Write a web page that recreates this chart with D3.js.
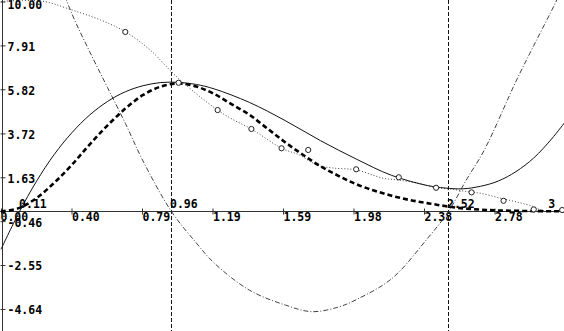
<!DOCTYPE html>
<html>
<head>
<meta charset="utf-8">
<script src="https://cdn.jsdelivr.net/npm/d3@7"></script>
<style>
  html, body { margin: 0; padding: 0; background: #fff; }
  svg { display: block; background: #fff; }
  .axis text, .mark-label {
    font-family: "DejaVu Sans Mono", monospace;
    font-weight: bold;
    font-size: 11.5px;
    fill: #000;
  }
</style>
</head>
<body>
<svg id="chart" width="564" height="331"></svg>
<script>
// 刻度
const xTicks = [0, 0.397, 0.794, 1.191, 1.588, 1.985, 2.382, 2.779];
const xTickLabels = ["0.00", "0.40", "0.79", "1.19", "1.59", "1.98", "2.38", "2.78"];
const yTicks = [10, 7.91, 5.82, 3.72, 1.63, -0.46, -2.55, -4.64];
const yTickLabels = ["10.00", "7.91", "5.82", "3.72", "1.63", "-0.46", "-2.55", "-4.64"];

// 标注点（x轴上方）和竖直虚线
const markX = [0.11, 0.96, 2.52, 3.09];
const markLabels = ["0.11", "0.96", "2.52", "3"];
const vLineX = [0.96, 2.52];

// 观测点
const pointX = [0.70, 1.00, 1.22, 1.41, 1.58, 1.73, 2.00, 2.24, 2.45, 2.65, 2.83, 3.00, 3.16];
const pointY = [8.55, 6.13, 4.83, 3.93, 3.01, 2.93, 2.01, 1.63, 1.13, 0.91, 0.51, 0.10, 0.07];

// 实线（拟合曲线）
const solidX = [0, 0.1, 0.2, 0.3, 0.4, 0.5, 0.6, 0.7, 0.8, 0.9, 1.0, 1.1, 1.2, 1.4, 1.6, 1.8, 2.0, 2.2, 2.4, 2.5, 2.6, 2.7, 2.8, 2.9, 3.0, 3.1, 3.18];
const solidY = [-1.8, -0.07, 1.44, 2.72, 3.76, 4.6, 5.24, 5.7, 5.99, 6.14, 6.15, 6.05, 5.84, 5.19, 4.33, 3.37, 2.5, 1.72, 1.24, 1.12, 1.08, 1.2, 1.45, 1.9, 2.55, 3.45, 4.3];

// 点线
const dotX = [0, 0.12, 0.25, 0.37, 0.56, 0.70, 0.84, 0.95, 1.02, 1.12, 1.22, 1.31, 1.41, 1.58, 1.68, 1.78, 1.87, 2.0, 2.15, 2.235, 2.34, 2.45, 2.53, 2.64, 2.70, 2.81, 2.92, 3.0, 3.04, 3.09];
const dotY = [10, 10.05, 9.99, 9.68, 9.12, 8.56, 7.69, 6.74, 6.18, 5.47, 4.83, 4.36, 3.93, 3.01, 2.69, 2.21, 2.07, 1.98, 1.59, 1.5, 1.36, 1.13, 1.07, 0.93, 0.87, 0.64, 0.42, 0.23, 0.07, 0];

// 粗虚线
const thickX = [0, 0.1, 0.2, 0.3, 0.4, 0.5, 0.6, 0.7, 0.8, 0.9, 1.0, 1.1, 1.2, 1.3, 1.4, 1.5, 1.6, 1.7, 1.8, 1.9, 2.0, 2.1, 2.2, 2.3, 2.4, 2.5, 2.6, 2.7, 2.8, 3.0, 3.18];
const thickY = [0, 0.16, 0.64, 1.37, 2.23, 3.2, 4.1, 4.9, 5.55, 5.95, 6.1, 5.95, 5.6, 5.1, 4.6, 3.95, 3.3, 2.7, 2.15, 1.7, 1.3, 1.0, 0.75, 0.55, 0.4, 0.26, 0.15, 0.09, 0.05, 0.02, 0.01];

// 点划线（导数）
const dashDotX = [0.30, 0.40, 0.50, 0.60, 0.70, 0.80, 0.96, 1.10, 1.20, 1.40, 1.60, 1.75, 1.90, 2.00, 2.20, 2.40, 2.52, 2.62, 2.72, 2.90, 3.00, 3.12, 3.18];
const dashDotY = [11.6, 9.4, 7.6, 5.9, 4.2, 2.4, 0, -1.5, -2.45, -3.75, -4.45, -4.77, -4.55, -4.2, -3.2, -1.3, 0, 1.5, 2.9, 6.2, 7.9, 9.9, 11.0];

const width = 564, height = 331;
const svg = d3.select("#chart");

const x = d3.scaleLinear().domain([0, 3.176]).range([1, 565]);
const y = d3.scaleLinear().domain([0, 10]).range([211.5, 1.5]);

const zip = (xs, ys) => xs.map((v, i) => [v, ys[i]]);
const smooth = d3.line()
  .x(d => x(d[0]))
  .y(d => y(d[1]))
  .curve(d3.curveCatmullRom.alpha(0.5));

// 坐标轴
const xAxis = svg.append("g")
  .attr("class", "axis")
  .attr("transform", `translate(0,${y(0)})`)
  .call(d3.axisBottom(x).tickValues(xTicks).tickSize(3).tickSizeOuter(0)
    .tickFormat((d, i) => xTickLabels[i]));
xAxis.select(".domain").attr("d", `M0,0H${width}`).attr("stroke", "#333");
xAxis.selectAll(".tick line").attr("y1", -3).attr("y2", 3).attr("stroke", "#333");
xAxis.selectAll(".tick text")
  .attr("text-anchor", "start")
  .attr("x", (d, i) => i === 0 ? -1 : 0)
  .attr("y", 1)
  .attr("dy", "0.71em");

const yAxis = svg.append("g")
  .attr("class", "axis")
  .attr("transform", "translate(2.5,0)")
  .call(d3.axisRight(y).tickValues(yTicks).tickSize(3).tickSizeOuter(0)
    .tickFormat((d, i) => yTickLabels[i]));
yAxis.select(".domain").attr("d", `M0,0V${height}`).attr("stroke", "#333");
yAxis.selectAll(".tick line").attr("x1", -2).attr("x2", 3).attr("stroke", "#333");
yAxis.selectAll(".tick text")
  .attr("x", 5)
  .attr("dy", (d, i) => i === 0 ? "0.6em" : "0.42em");

// 竖直虚线
svg.append("g").selectAll("line")
  .data(vLineX)
  .join("line")
  .attr("x1", d => x(d)).attr("x2", d => x(d))
  .attr("y1", 0).attr("y2", height)
  .attr("stroke", "#111")
  .attr("stroke-width", 1)
  .attr("stroke-dasharray", "4,2");

// 曲线
svg.append("path")
  .datum(zip(dashDotX, dashDotY))
  .attr("d", smooth)
  .attr("fill", "none")
  .attr("stroke", "#444")
  .attr("stroke-width", 1)
  .attr("stroke-dasharray", "5,2,1,2");

svg.append("path")
  .datum(zip(dotX, dotY))
  .attr("d", smooth)
  .attr("fill", "none")
  .attr("stroke", "#444")
  .attr("stroke-width", 1)
  .attr("stroke-dasharray", "1,2");

svg.append("path")
  .datum(zip(solidX, solidY))
  .attr("d", smooth)
  .attr("fill", "none")
  .attr("stroke", "#111")
  .attr("stroke-width", 1);

svg.append("path")
  .datum(zip(thickX, thickY))
  .attr("d", smooth)
  .attr("fill", "none")
  .attr("stroke", "#000")
  .attr("stroke-width", 2.6)
  .attr("stroke-dasharray", "5,3");

// 观测点
svg.append("g").selectAll("circle")
  .data(zip(pointX, pointY))
  .join("circle")
  .attr("cx", d => x(d[0]))
  .attr("cy", d => y(d[1]))
  .attr("r", 2.6)
  .attr("fill", "#fff")
  .attr("stroke", "#222")
  .attr("stroke-width", 1);

// 标注文字
svg.append("g").selectAll("text")
  .data(markX)
  .join("text")
  .attr("class", "mark-label")
  .attr("x", d => x(d) - 1.5)
  .attr("y", y(0) - 3.5)
  .text((d, i) => markLabels[i]);
</script>
</body>
</html>
